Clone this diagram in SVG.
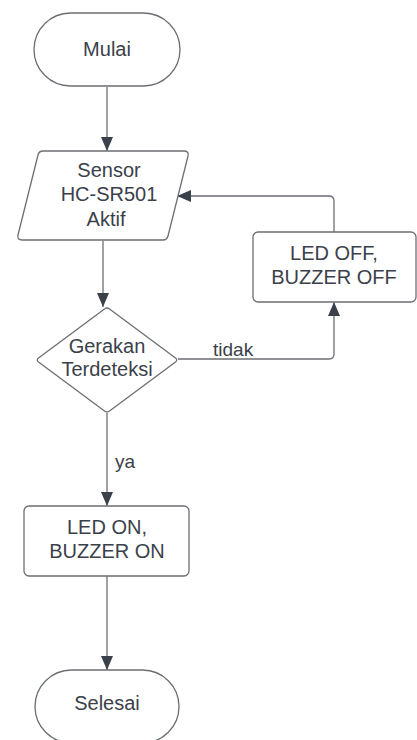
<svg xmlns="http://www.w3.org/2000/svg" width="417" height="740" viewBox="0 0 417 740">
  <style>
    .shape { fill: #ffffff; stroke: #6b6e73; stroke-width: 1.3; stroke-linejoin: round; }
    .edge { fill: none; stroke: #6b6e73; stroke-width: 1.3; }
    .label { font-family: "Liberation Sans", Arial, sans-serif; font-size: 20px; fill: #3a414a; text-anchor: middle; }
    .edge-label { font-family: "Liberation Sans", Arial, sans-serif; font-size: 19px; fill: #3a414a; }
  </style>
  <defs>
    <marker id="arrow" viewBox="0 0 14 12" refX="14" refY="6" markerWidth="14" markerHeight="12" markerUnits="userSpaceOnUse" orient="auto">
      <path d="M0,0 L14,6 L0,12 Z" fill="#3a414a"/>
    </marker>
  </defs>
  <rect width="417" height="740" fill="#ffffff"/>

  <g id="connectors">
    <path class="edge" d="M107,87 L107,151" marker-end="url(#arrow)"/>
    <path class="edge" d="M103,241 L103,307" marker-end="url(#arrow)"/>
    <path class="edge" d="M178,359 L329,359 Q334,359 334,354 L334,302" marker-end="url(#arrow)"/>
    <path class="edge" d="M334,232 L334,201 Q334,196 329,196 L177,196" marker-end="url(#arrow)"/>
    <path class="edge" d="M107,413 L107,506" marker-end="url(#arrow)"/>
    <path class="edge" d="M107,576 L107,670" marker-end="url(#arrow)"/>
    <text class="edge-label" x="213" y="356">tidak</text>
    <text class="edge-label" x="115" y="468">ya</text>
  </g>

  <g id="mulai">
    <rect class="shape" x="34" y="13" width="146" height="73" rx="36.5"/>
    <text class="label" x="107" y="56">Mulai</text>
  </g>

  <g id="sensor">
    <path class="shape" d="M43,151 L184,151 Q189,151 188,156 L168,236 Q167,240 163,240 L22,240 Q17,240 18,235 L38,155 Q39,151 43,151 Z"/>
    <text class="label" x="109" y="177">Sensor</text>
    <text class="label" x="109" y="201">HC-SR501</text>
    <text class="label" x="106" y="226">Aktif</text>
  </g>

  <g id="led-off">
    <rect class="shape" x="253" y="232" width="163" height="70" rx="5"/>
    <text class="label" x="334" y="260">LED OFF,</text>
    <text class="label" x="334" y="284">BUZZER OFF</text>
  </g>

  <g id="gerakan">
    <path class="shape" d="M104.5,309 Q107,307 109.5,309 L175.5,358 Q178,360 175.5,362 L109.5,411 Q107,413 104.5,411 L38.5,362 Q36,360 38.5,358 Z"/>
    <text class="label" x="107" y="353">Gerakan</text>
    <text class="label" x="107" y="376">Terdeteksi</text>
  </g>

  <g id="led-on">
    <rect class="shape" x="24" y="506" width="165" height="70" rx="5"/>
    <text class="label" x="107" y="534">LED ON,</text>
    <text class="label" x="107" y="558">BUZZER ON</text>
  </g>

  <g id="selesai">
    <rect class="shape" x="35" y="670" width="144" height="73" rx="36.5"/>
    <text class="label" x="107" y="710">Selesai</text>
  </g>
</svg>
